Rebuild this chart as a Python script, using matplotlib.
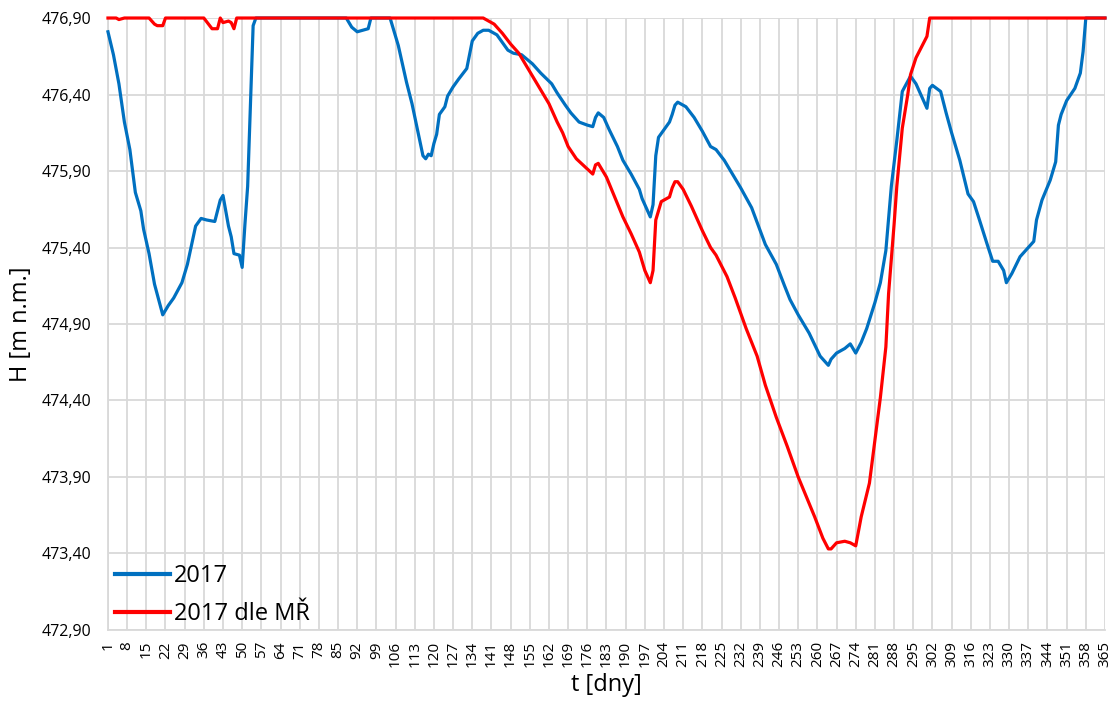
import matplotlib
matplotlib.use("Agg")
import matplotlib.pyplot as plt
from matplotlib.ticker import FuncFormatter

plt.rcParams['font.family'] = ['Open Sans', 'DejaVu Sans']

# 2017 - measured water level (day, H)
days_2017 = [1, 3, 5, 7, 9, 11, 13, 14, 16, 18, 21, 23, 25, 28, 30, 33, 35, 37, 40, 42,
             43, 45, 46, 47, 49, 50, 51, 52, 53, 54, 55, 88, 90, 92, 96, 97, 104, 107, 110, 112,
             114, 116, 117, 118, 119, 120, 121, 122, 124, 125, 127, 129, 132, 133, 134, 136, 138, 140, 143, 147,
             149, 152, 156, 159, 163, 165, 168, 170, 173, 176, 178, 179, 180, 182, 184, 187, 189, 192, 195, 196,
             199, 200, 201, 202, 204, 206, 207, 208, 209, 212, 215, 218, 221, 223, 226, 229, 232, 236, 241, 245,
             248, 250, 253, 257, 261, 264, 265, 267, 270, 272, 274, 276, 278, 281, 283, 285, 287, 289, 291, 294,
             296, 300, 301, 302, 305, 307, 309, 312, 315, 317, 319, 322, 324, 326, 328, 329, 331, 334, 336, 339,
             340, 342, 345, 347, 348, 349, 351, 354, 356, 357, 358, 365]
h_2017 = [476.81, 476.66, 476.47, 476.22, 476.04, 475.76, 475.64, 475.52, 475.36, 475.16, 474.96, 475.02, 475.07, 475.17, 475.29, 475.54, 475.59, 475.58, 475.57, 475.71,
          475.74, 475.54, 475.47, 475.36, 475.35, 475.27, 475.55, 475.80, 476.33, 476.85, 476.90, 476.90, 476.84, 476.81, 476.83, 476.90, 476.90, 476.72, 476.48, 476.34,
          476.17, 476.00, 475.98, 476.01, 476.00, 476.08, 476.14, 476.27, 476.32, 476.39, 476.45, 476.50, 476.57, 476.66, 476.75, 476.80, 476.82, 476.82, 476.79, 476.69,
          476.67, 476.66, 476.60, 476.54, 476.47, 476.41, 476.33, 476.28, 476.22, 476.20, 476.19, 476.25, 476.28, 476.25, 476.17, 476.06, 475.97, 475.88, 475.78, 475.72,
          475.60, 475.68, 476.00, 476.12, 476.17, 476.22, 476.27, 476.33, 476.35, 476.32, 476.25, 476.16, 476.06, 476.04, 475.97, 475.88, 475.79, 475.66, 475.42, 475.29,
          475.15, 475.06, 474.96, 474.84, 474.69, 474.63, 474.67, 474.71, 474.74, 474.77, 474.71, 474.78, 474.87, 475.04, 475.17, 475.38, 475.80, 476.10, 476.42, 476.52,
          476.47, 476.31, 476.44, 476.46, 476.42, 476.28, 476.15, 475.97, 475.75, 475.70, 475.59, 475.42, 475.31, 475.31, 475.25, 475.17, 475.23, 475.34, 475.38, 475.44,
          475.58, 475.71, 475.84, 475.96, 476.20, 476.27, 476.36, 476.44, 476.54, 476.68, 476.90, 476.90]

# 2017 dle MR - water level according to the operating rules (day, H)
days_mr = [1, 4, 5, 7, 16, 18, 19, 21, 22, 36, 39, 41, 42, 43, 45, 46, 47, 48, 138, 142,
           145, 148, 151, 154, 157, 160, 162, 165, 167, 169, 172, 175, 178, 179, 180, 183, 186, 189, 192, 195,
           197, 199, 200, 201, 203, 206, 207, 208, 209, 211, 214, 218, 221, 223, 227, 230, 234, 238, 241, 245,
           249, 253, 256, 259, 262, 264, 265, 267, 270, 272, 274, 276, 279, 281, 283, 285, 286, 288, 289, 291,
           293, 294, 296, 298, 300, 301, 365]
h_mr = [476.90, 476.90, 476.89, 476.90, 476.90, 476.86, 476.85, 476.85, 476.90, 476.90, 476.83, 476.83, 476.90, 476.87, 476.88, 476.87, 476.83, 476.90, 476.90, 476.86,
        476.80, 476.73, 476.67, 476.58, 476.49, 476.40, 476.34, 476.22, 476.15, 476.06, 475.98, 475.93, 475.88, 475.94, 475.95, 475.86, 475.73, 475.60, 475.49, 475.37,
        475.25, 475.17, 475.25, 475.58, 475.70, 475.73, 475.79, 475.83, 475.83, 475.78, 475.67, 475.51, 475.40, 475.35, 475.21, 475.07, 474.87, 474.69, 474.50, 474.29,
        474.10, 473.90, 473.77, 473.64, 473.50, 473.43, 473.43, 473.47, 473.48, 473.47, 473.45, 473.64, 473.86, 474.14, 474.42, 474.75, 475.10, 475.55, 475.80, 476.18,
        476.40, 476.53, 476.64, 476.71, 476.78, 476.90, 476.90]

x_ticks = list(range(1, 366, 7))
y_ticks = [472.9, 473.4, 473.9, 474.4, 474.9, 475.4, 475.9, 476.4, 476.9]

fig = plt.figure(figsize=(11.13, 7.01), dpi=100)
ax = fig.add_axes([0.097, 0.1013, 0.8958, 0.873])

ax.plot(days_2017, h_2017, color='#0070C0', lw=2.3, label='2017', clip_on=False, zorder=3)
ax.plot(days_mr, h_mr, color='#FF0000', lw=2.3, label='2017 dle MŘ', clip_on=False, zorder=4)

ax.set_xlim(1, 365)
ax.set_ylim(472.9, 476.9)
ax.set_xticks(x_ticks)
ax.set_xticklabels([str(t) for t in x_ticks], rotation=90, fontsize=11)
ax.set_yticks(y_ticks)
ax.yaxis.set_major_formatter(FuncFormatter(lambda v, p: f"{v:.2f}".replace('.', ',')))
ax.tick_params(axis='y', labelsize=11.5, length=0, pad=12)
ax.tick_params(axis='x', length=0, pad=8)

ax.grid(True, color='#d9d9d9', lw=1.3)
ax.set_axisbelow(True)
for s in ['top', 'right']:
    ax.spines[s].set_visible(False)
for s in ['left', 'bottom']:
    ax.spines[s].set_color('#d9d9d9')
    ax.spines[s].set_linewidth(1.3)

ax.set_xlabel('t [dny]', fontsize=17, labelpad=4)
ax.set_ylabel('H [m n.m.]', fontsize=17, labelpad=6)

leg = ax.legend(loc='lower left', bbox_to_anchor=(7 / 997, 4 / 612), frameon=False, fontsize=17,
                handlelength=2.33, handletextpad=0.17, borderaxespad=0, borderpad=0, labelspacing=0.6)
for h in leg.get_lines():
    h.set_linewidth(3)

fig.savefig('out.png', dpi=100)
